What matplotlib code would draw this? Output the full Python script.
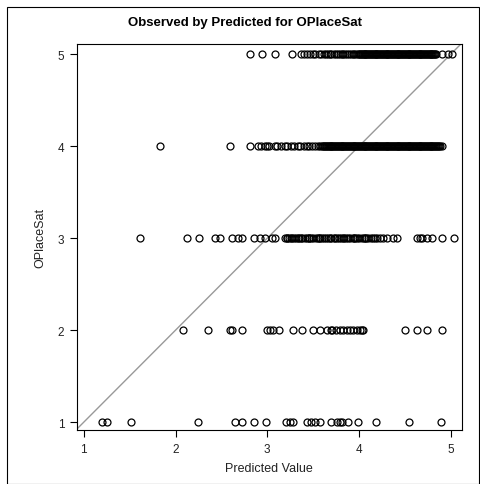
import matplotlib
matplotlib.use("Agg")
import matplotlib.pyplot as plt
from matplotlib.patches import Rectangle

plt.rcParams['font.family'] = ['Liberation Sans', 'DejaVu Sans']

# predicted values for each observed level of OPlaceSat
pred_1 = [1.20, 1.25, 1.52, 2.25, 2.65, 2.73, 2.86, 2.99, 3.20, 3.25, 3.28, 3.43,
          3.48, 3.52, 3.57, 3.70, 3.76, 3.79, 3.82, 3.88, 3.99, 4.18, 4.55, 4.89]
pred_2 = [2.08, 2.35, 2.59, 2.62, 2.73, 3.00, 3.03, 3.06, 3.13, 3.28, 3.38, 3.50,
          3.57, 3.65, 3.69, 3.71, 3.75, 3.79, 3.83, 3.87, 3.90, 3.93, 3.98, 4.01,
          4.03, 4.04, 4.50, 4.63, 4.74, 4.90]
pred_3 = [1.61, 2.12, 2.26, 2.43, 2.48, 2.62, 2.68, 2.72, 2.86, 2.92, 2.97, 3.05,
          3.08, 3.19, 3.21, 3.22, 3.24, 3.26, 3.27, 3.29, 3.31, 3.33, 3.35, 3.37,
          3.38, 3.41, 3.43, 3.45, 3.46, 3.48, 3.50, 3.53, 3.55, 3.56, 3.58, 3.60,
          3.62, 3.64, 3.66, 3.68, 3.70, 3.73, 3.74, 3.76, 3.78, 3.80, 3.83, 3.84,
          3.86, 3.88, 3.90, 3.93, 3.95, 3.96, 3.98, 4.00, 4.03, 4.05, 4.06, 4.08,
          4.10, 4.13, 4.15, 4.17, 4.20, 4.23, 4.26, 4.30, 4.37, 4.41, 4.63, 4.67,
          4.69, 4.74, 4.80, 4.91, 5.04]
pred_4 = [1.83, 2.59, 2.81, 2.90, 2.93, 2.97, 3.00, 3.02, 3.08, 3.11, 3.15, 3.19,
          3.22, 3.26, 3.29, 3.33, 3.36, 3.40, 3.43, 3.46, 3.49, 3.52, 3.55, 3.58,
          3.60, 3.61, 3.62, 3.63, 3.64, 3.65, 3.66, 3.67, 3.68, 3.69, 3.70, 3.71,
          3.72, 3.73, 3.74, 3.75, 3.76, 3.77, 3.78, 3.79, 3.80, 3.81, 3.82, 3.83,
          3.84, 3.85, 3.86, 3.87, 3.88, 3.89, 3.90, 3.91, 3.92, 3.93, 3.94, 3.95,
          3.96, 3.97, 3.98, 3.99, 4.00, 4.01, 4.02, 4.03, 4.04, 4.05, 4.06, 4.07,
          4.08, 4.09, 4.10, 4.11, 4.12, 4.13, 4.14, 4.15, 4.16, 4.17, 4.18, 4.19,
          4.20, 4.21, 4.22, 4.23, 4.24, 4.25, 4.26, 4.27, 4.28, 4.29, 4.30, 4.31,
          4.32, 4.33, 4.34, 4.35, 4.36, 4.37, 4.38, 4.39, 4.40, 4.41, 4.42, 4.43,
          4.44, 4.45, 4.46, 4.47, 4.48, 4.49, 4.50, 4.51, 4.52, 4.53, 4.54, 4.55,
          4.56, 4.57, 4.58, 4.59, 4.60, 4.61, 4.62, 4.63, 4.64, 4.65, 4.66, 4.67,
          4.68, 4.69, 4.70, 4.71, 4.72, 4.73, 4.74, 4.75, 4.76, 4.77, 4.78, 4.79,
          4.80, 4.81, 4.82, 4.83, 4.84, 4.85, 4.86, 4.87, 4.88, 4.90]
pred_5 = [2.81, 2.94, 3.08, 3.27, 3.37, 3.40, 3.43, 3.47, 3.50, 3.52, 3.56, 3.59,
          3.62, 3.64, 3.66, 3.68, 3.70, 3.73, 3.75, 3.77, 3.79, 3.81, 3.83, 3.85,
          3.87, 3.89, 3.91, 3.93, 3.95, 3.97, 3.99, 4.00, 4.01, 4.02, 4.03, 4.04,
          4.05, 4.06, 4.07, 4.08, 4.09, 4.10, 4.11, 4.12, 4.13, 4.14, 4.15, 4.16,
          4.17, 4.18, 4.19, 4.20, 4.21, 4.22, 4.23, 4.24, 4.25, 4.26, 4.27, 4.28,
          4.29, 4.30, 4.31, 4.32, 4.33, 4.34, 4.35, 4.36, 4.37, 4.38, 4.39, 4.40,
          4.41, 4.42, 4.43, 4.44, 4.45, 4.46, 4.47, 4.48, 4.49, 4.50, 4.51, 4.52,
          4.53, 4.54, 4.55, 4.56, 4.57, 4.58, 4.59, 4.60, 4.61, 4.62, 4.63, 4.64,
          4.65, 4.66, 4.67, 4.68, 4.69, 4.70, 4.71, 4.72, 4.73, 4.74, 4.75, 4.76,
          4.77, 4.78, 4.79, 4.80, 4.81, 4.82, 4.83, 4.84, 4.90, 4.97, 5.01]

levels = [1, 2, 3, 4, 5]
groups = [pred_1, pred_2, pred_3, pred_4, pred_5]
ticks = [1, 2, 3, 4, 5]

fig = plt.figure(figsize=(4.8, 4.85), dpi=100)
ax = fig.add_axes([0.160, 0.111, 0.802, 0.796])

# reference line y = x
ax.axline((1, 1), (5, 5), color='#999999', lw=1.0, zorder=1)

for lvl, xs in zip(levels, groups):
    ax.plot(xs, [lvl] * len(xs), linestyle='none', marker='o', markersize=5,
            markerfacecolor='none', markeredgecolor='black', markeredgewidth=0.9,
            zorder=2)

ax.set_xlim(0.924, 5.12)
ax.set_ylim(0.913, 5.11)
ax.set_xticks(ticks)
ax.set_yticks(ticks)
ax.tick_params(direction='out', length=5, width=0.8, labelsize=8.5,
               colors='black', labelcolor='#222222', pad=4)
for s in ax.spines.values():
    s.set_linewidth(0.8)

ax.set_xlabel('Predicted Value', fontsize=9, color='#222222', labelpad=5)
ax.set_ylabel('OPlaceSat', fontsize=9, color='#222222', labelpad=8)
fig.text(0.51, 0.952, 'Observed by Predicted for OPlaceSat', ha='center',
         va='center', fontsize=9.5, fontweight='bold')

# outer border of the graph
fig.patches.append(Rectangle((7 / 480, 0.0), 1 - 7 / 480 - 0.002, 1 - 8 / 485,
                             transform=fig.transFigure, fill=False,
                             edgecolor='black', lw=0.8))

fig.savefig('out.png', dpi=100)
